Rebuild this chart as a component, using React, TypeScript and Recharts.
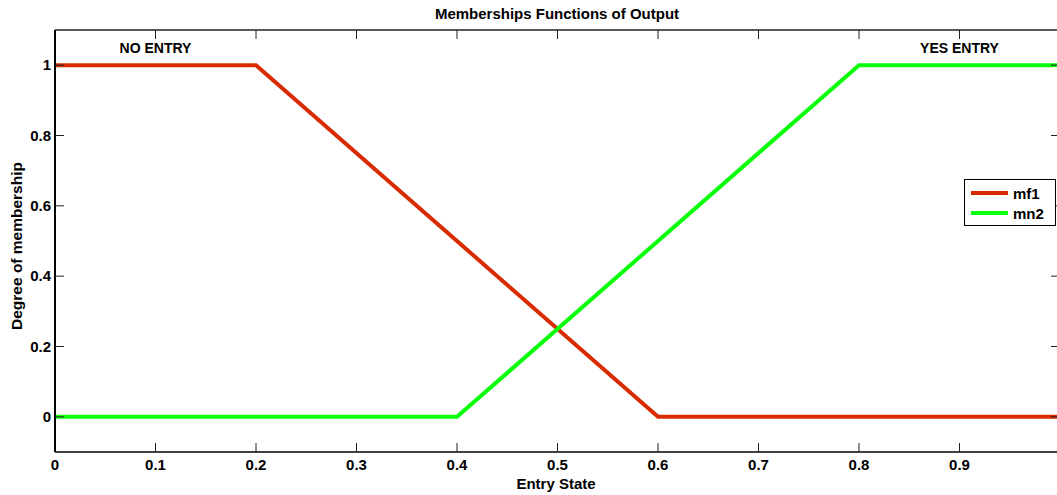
import React from 'react';
import { LineChart, Line, XAxis, YAxis, ReferenceDot } from 'recharts';

const mf1X = [0, 0.2, 0.6, 1];
const mf1Y = [1, 1, 0, 0];
const mn2X = [0, 0.4, 0.8, 1];
const mn2Y = [0, 0, 1, 1];
const xTicks = [0, 0.1, 0.2, 0.3, 0.4, 0.5, 0.6, 0.7, 0.8, 0.9];
const yTicks = [0, 0.2, 0.4, 0.6, 0.8, 1];
const seriesNames = ['mf1', 'mn2'];
const seriesColors = ['#d92b00', '#0aff0a'];
const annotations = [
  { x: 0.1, y: 1.05, text: 'NO ENTRY' },
  { x: 0.9, y: 1.05, text: 'YES ENTRY' },
];

const mf1Data = mf1X.map((x, i) => ({ x, y: mf1Y[i] }));
const mn2Data = mn2X.map((x, i) => ({ x, y: mn2Y[i] }));

const FONT = '"Liberation Sans", Arial, sans-serif';
const tickStyle = { fontSize: 15, fontWeight: 700, fill: '#000', fontFamily: FONT };
const annStyle = { fontSize: 14, fontWeight: 700, fill: '#000', fontFamily: FONT };
const emptyTick = () => <g />;

const LegendBox = () => (
  <div
    style={{
      position: 'absolute',
      left: 964,
      top: 179,
      border: '1px solid #000',
      background: '#fff',
      width: 92,
      height: 47,
      boxSizing: 'border-box',
      fontFamily: FONT,
      fontWeight: 700,
      fontSize: 15,
      paddingTop: 3,
    }}
  >
    {seriesNames.map((n, i) => (
      <div key={n} style={{ display: 'flex', alignItems: 'center', height: 20 }}>
        <div style={{ width: 37, height: 4, background: seriesColors[i], marginLeft: 6, marginRight: 5 }} />
        <span>{n}</span>
      </div>
    ))}
  </div>
);

export default function App() {
  return (
    <div style={{ position: 'absolute', left: 0, top: 0, width: 1057, height: 495, overflow: 'hidden', background: '#fff' }}>
      <LineChart width={1070} height={495} margin={{ top: 30, right: 10, bottom: 42, left: 54 }}>
        <XAxis
          dataKey="x"
          type="number"
          domain={[0, 1]}
          ticks={xTicks}
          allowDataOverflow
          height={1}
          tickLine={false}
          tickSize={0}
          tickMargin={7}
          axisLine={{ stroke: '#000', strokeWidth: 1.5 }}
          tick={tickStyle}
          tickFormatter={(v: number) => String(v)}
        />
        <XAxis
          xAxisId="bin"
          dataKey="x"
          type="number"
          domain={[0, 1]}
          ticks={xTicks}
          allowDataOverflow
          interval={0}
          height={1}
          mirror
          tick={emptyTick}
          tickSize={9}
          tickLine={{ stroke: '#222' }}
          axisLine={false}
        />
        <XAxis
          xAxisId="top"
          orientation="top"
          dataKey="x"
          type="number"
          domain={[0, 1]}
          ticks={xTicks}
          allowDataOverflow
          interval={0}
          height={1}
          mirror
          tick={emptyTick}
          tickSize={9}
          tickLine={{ stroke: '#222' }}
          axisLine={{ stroke: '#222', strokeWidth: 1.5 }}
        />
        <YAxis
          type="number"
          domain={[-0.1, 1.1]}
          ticks={yTicks}
          allowDataOverflow
          width={1}
          tickLine={false}
          tickSize={0}
          tickMargin={4}
          axisLine={{ stroke: '#000', strokeWidth: 2 }}
          tick={tickStyle}
          tickFormatter={(v: number) => String(v)}
        />
        <YAxis
          yAxisId="lin"
          type="number"
          domain={[-0.1, 1.1]}
          ticks={yTicks}
          allowDataOverflow
          interval={0}
          width={1}
          mirror
          tick={emptyTick}
          tickSize={9}
          tickLine={{ stroke: '#222' }}
          axisLine={false}
        />
        <YAxis
          yAxisId="right"
          orientation="right"
          type="number"
          domain={[-0.1, 1.1]}
          ticks={yTicks}
          allowDataOverflow
          interval={0}
          width={1}
          mirror
          tick={emptyTick}
          tickSize={9}
          tickLine={{ stroke: '#222' }}
          axisLine={{ stroke: '#222', strokeWidth: 1.5 }}
        />
        <Line
          data={mf1Data}
          dataKey="y"
          name={seriesNames[0]}
          stroke={seriesColors[0]}
          strokeWidth={4}
          dot={false}
          isAnimationActive={false}
          strokeLinejoin="miter"
        />
        <Line
          data={mn2Data}
          dataKey="y"
          name={seriesNames[1]}
          stroke={seriesColors[1]}
          strokeWidth={4}
          dot={false}
          isAnimationActive={false}
          strokeLinejoin="miter"
        />
        {annotations.map((a) => (
          <ReferenceDot
            key={a.text}
            x={a.x}
            y={a.y}
            r={0}
            stroke="none"
            fill="none"
            label={{ value: a.text, position: 'center', ...annStyle }}
          />
        ))}
        <text x={557} y={19} textAnchor="middle" style={{ fontFamily: FONT, fontWeight: 700, fontSize: 15 }}>
          Memberships Functions of Output
        </text>
        <text x={556} y={489} textAnchor="middle" style={{ fontFamily: FONT, fontWeight: 700, fontSize: 15 }}>
          Entry State
        </text>
        <text
          x={22}
          y={246}
          textAnchor="middle"
          transform="rotate(-90 22 246)"
          style={{ fontFamily: FONT, fontWeight: 700, fontSize: 15.5 }}
        >
          Degree of membership
        </text>
      </LineChart>
      <LegendBox />
    </div>
  );
}
